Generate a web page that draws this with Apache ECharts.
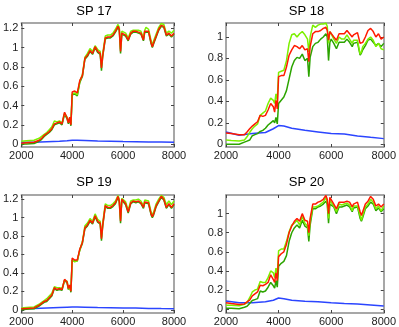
<!DOCTYPE html>
<html>
<head>
<meta charset="utf-8">
<script src="https://cdn.jsdelivr.net/npm/echarts@6/dist/echarts.min.js"></script>
<style>
  html, body { margin: 0; padding: 0; background: #fff; }
  #chart { width: 399px; height: 327px; }
</style>
</head>
<body>
<div id="chart"></div>
<script>
// sample positions along the x axis (shared by every panel)
const X = [2000, 2200, 2500, 2700, 2800, 2900, 3000, 3100, 3200, 3300, 3400, 3500, 3600, 3700, 3800, 3850,
  3900, 3950, 4000, 4100, 4200, 4300, 4400, 4500, 4600, 4700, 4800, 4900, 5000, 5100, 5150, 5200,
  5300, 5400, 5500, 5600, 5700, 5800, 5850, 5900, 5950, 6000, 6100, 6200, 6300, 6400, 6500, 6600,
  6700, 6800, 6850, 6900, 7000, 7100, 7150, 7200, 7300, 7400, 7500, 7600, 7700, 7800, 7900, 8000]
const blueX = [2000, 2500, 3000, 3500, 3800, 4000, 4200, 4500, 5000, 5500, 6000, 6500, 7000, 7500, 8000]

const titles = ['SP 17', 'SP 18', 'SP 19', 'SP 20']

// SP 17
const sp17Red = [0.01, 0.015, 0.02, 0.04, 0.06, 0.09, 0.11, 0.13, 0.16, 0.21, 0.22, 0.23, 0.21, 0.33, 0.27, 0.22,
  0.28, 0.20, 0.54, 0.55, 0.53, 0.66, 0.71, 0.89, 0.92, 0.97, 0.94, 1.01, 0.96, 0.94, 0.79, 0.92,
  1.10, 1.11, 1.11, 1.13, 1.17, 1.22, 1.19, 0.96, 1.15, 1.17, 1.13, 1.08, 1.15, 1.17, 1.17, 1.16,
  1.15, 1.08, 1.17, 1.19, 1.17, 1.05, 1.01, 1.05, 1.12, 1.19, 1.23, 1.22, 1.13, 1.15, 1.12, 1.15]
const sp17Light = [0.03, 0.035, 0.04, 0.06, 0.08, 0.10, 0.12, 0.15, 0.18, 0.24, 0.23, 0.24, 0.22, 0.32, 0.28, 0.23,
  0.27, 0.21, 0.52, 0.53, 0.51, 0.65, 0.72, 0.90, 0.94, 0.99, 0.96, 1.02, 0.98, 0.96, 0.81, 0.94,
  1.12, 1.13, 1.13, 1.15, 1.19, 1.24, 1.21, 0.98, 1.17, 1.19, 1.15, 1.10, 1.17, 1.18, 1.18, 1.18,
  1.17, 1.10, 1.18, 1.21, 1.19, 1.07, 1.03, 1.07, 1.14, 1.21, 1.25, 1.24, 1.15, 1.17, 1.15, 1.18]
const sp17Dark = [0.0, 0.0, 0.005, 0.03, 0.05, 0.08, 0.10, 0.12, 0.15, 0.20, 0.21, 0.22, 0.20, 0.31, 0.26, 0.21,
  0.26, 0.19, 0.51, 0.52, 0.50, 0.64, 0.70, 0.88, 0.91, 0.96, 0.93, 1.00, 0.95, 0.93, 0.76, 0.91,
  1.09, 1.10, 1.10, 1.12, 1.16, 1.21, 1.18, 0.94, 1.14, 1.16, 1.12, 1.07, 1.14, 1.16, 1.16, 1.15,
  1.14, 1.07, 1.16, 1.18, 1.16, 1.04, 1.00, 1.04, 1.11, 1.18, 1.22, 1.21, 1.12, 1.14, 1.11, 1.14]
const sp17Blue = [0.02, 0.02, 0.025, 0.03, 0.035, 0.04, 0.04, 0.037, 0.032, 0.03, 0.027, 0.025, 0.023, 0.021, 0.018]

// SP 18
const sp18Red = [0.105, 0.10, 0.09, 0.09, 0.115, 0.145, 0.17, 0.19, 0.21, 0.27, 0.26, 0.27, 0.32, 0.38, 0.35, 0.30,
  0.41, 0.33, 0.63, 0.64, 0.64, 0.72, 0.83, 0.88, 0.92, 0.91, 0.89, 0.92, 0.88, 0.89, 0.77, 0.91,
  1.03, 1.05, 1.05, 1.06, 1.08, 1.09, 1.06, 0.97, 1.05, 1.06, 1.00, 0.97, 1.03, 1.03, 1.03, 1.06,
  1.03, 1.00, 1.02, 1.03, 1.04, 0.94, 0.93, 0.95, 1.00, 1.06, 1.08, 1.05, 1.00, 1.03, 0.98, 1.00]
const sp18Light = [0.04, 0.035, 0.03, 0.04, 0.07, 0.11, 0.145, 0.17, 0.19, 0.27, 0.29, 0.31, 0.38, 0.43, 0.41, 0.38,
  0.47, 0.41, 0.67, 0.68, 0.69, 0.78, 0.94, 1.02, 1.03, 1.00, 1.03, 1.05, 1.02, 0.98, 0.86, 1.00,
  1.11, 1.09, 1.11, 1.12, 1.12, 1.13, 1.10, 0.94, 1.05, 1.03, 0.98, 0.94, 1.00, 0.98, 0.98, 1.02,
  0.98, 0.94, 0.97, 0.98, 0.97, 0.84, 0.86, 0.91, 0.94, 0.98, 1.00, 0.97, 0.91, 0.94, 0.89, 0.88]
const sp18Dark = [0.0, 0.0, 0.0, 0.02, 0.03, 0.04, 0.08, 0.09, 0.10, 0.12, 0.13, 0.15, 0.18, 0.20, 0.22, 0.20,
  0.25, 0.19, 0.38, 0.41, 0.44, 0.50, 0.61, 0.72, 0.78, 0.81, 0.80, 0.84, 0.78, 0.80, 0.63, 0.81,
  0.91, 0.94, 0.95, 0.98, 1.00, 1.03, 1.00, 0.78, 0.95, 0.98, 0.94, 0.89, 0.95, 0.95, 0.95, 0.98,
  0.95, 0.91, 0.94, 0.95, 0.95, 0.83, 0.85, 0.88, 0.92, 0.97, 0.98, 0.95, 0.92, 0.94, 0.91, 0.94]
const sp18Blue = [0.115, 0.085, 0.10, 0.11, 0.145, 0.175, 0.17, 0.15, 0.13, 0.115, 0.10, 0.095, 0.078, 0.065, 0.053]

// SP 19
const sp19Red = [0.01, 0.015, 0.02, 0.05, 0.07, 0.09, 0.10, 0.13, 0.16, 0.24, 0.22, 0.23, 0.22, 0.33, 0.30, 0.23,
  0.27, 0.20, 0.56, 0.54, 0.54, 0.66, 0.73, 0.89, 0.92, 0.97, 0.94, 1.02, 0.96, 0.94, 0.77, 0.92,
  1.13, 1.11, 1.11, 1.13, 1.16, 1.23, 1.18, 0.96, 1.20, 1.22, 1.15, 1.06, 1.16, 1.18, 1.17, 1.18,
  1.16, 1.11, 1.17, 1.18, 1.16, 1.04, 1.01, 1.04, 1.13, 1.18, 1.23, 1.20, 1.11, 1.15, 1.11, 1.15]
const sp19Light = [0.02, 0.025, 0.03, 0.06, 0.08, 0.10, 0.12, 0.15, 0.18, 0.25, 0.24, 0.24, 0.23, 0.32, 0.31, 0.24,
  0.26, 0.21, 0.54, 0.52, 0.53, 0.65, 0.74, 0.91, 0.94, 0.99, 0.96, 1.04, 0.98, 0.96, 0.79, 0.94,
  1.15, 1.13, 1.13, 1.15, 1.18, 1.24, 1.20, 0.98, 1.21, 1.23, 1.17, 1.08, 1.18, 1.19, 1.19, 1.20,
  1.18, 1.13, 1.19, 1.20, 1.18, 1.06, 1.03, 1.06, 1.15, 1.20, 1.24, 1.22, 1.14, 1.18, 1.14, 1.18]
const sp19Dark = [0.0, 0.005, 0.01, 0.04, 0.06, 0.08, 0.09, 0.12, 0.15, 0.23, 0.21, 0.22, 0.21, 0.32, 0.29, 0.22,
  0.26, 0.19, 0.54, 0.53, 0.53, 0.65, 0.72, 0.88, 0.91, 0.96, 0.93, 1.01, 0.95, 0.93, 0.75, 0.91,
  1.12, 1.10, 1.10, 1.12, 1.15, 1.22, 1.17, 0.94, 1.19, 1.21, 1.14, 1.05, 1.15, 1.17, 1.16, 1.17,
  1.15, 1.10, 1.16, 1.17, 1.15, 1.03, 1.00, 1.03, 1.12, 1.17, 1.22, 1.19, 1.10, 1.14, 1.10, 1.14]
const sp19Blue = [0.015, 0.015, 0.02, 0.025, 0.028, 0.03, 0.03, 0.028, 0.024, 0.022, 0.02, 0.018, 0.015, 0.013, 0.012]

// SP 20
const sp20Red = [0.067, 0.06, 0.05, 0.055, 0.077, 0.094, 0.14, 0.16, 0.18, 0.25, 0.245, 0.26, 0.28, 0.36, 0.31, 0.28,
  0.38, 0.30, 0.55, 0.58, 0.60, 0.68, 0.80, 0.87, 0.92, 0.95, 0.92, 1.00, 0.93, 0.92, 0.80, 0.95,
  1.10, 1.10, 1.12, 1.13, 1.15, 1.19, 1.15, 1.00, 1.17, 1.17, 1.10, 1.05, 1.12, 1.12, 1.12, 1.13,
  1.12, 1.07, 1.10, 1.12, 1.12, 1.02, 0.98, 1.02, 1.10, 1.13, 1.18, 1.15, 1.08, 1.10, 1.07, 1.10]
const sp20Light = [0.04, 0.04, 0.035, 0.05, 0.07, 0.12, 0.18, 0.20, 0.21, 0.29, 0.28, 0.28, 0.33, 0.40, 0.38, 0.33,
  0.43, 0.36, 0.61, 0.63, 0.63, 0.71, 0.81, 0.88, 0.90, 0.93, 0.88, 0.97, 0.90, 0.87, 0.77, 0.92,
  1.07, 1.07, 1.08, 1.10, 1.12, 1.17, 1.12, 0.95, 1.14, 1.15, 1.08, 1.02, 1.10, 1.09, 1.10, 1.11,
  1.09, 1.03, 1.08, 1.10, 1.08, 0.98, 0.93, 0.98, 1.07, 1.10, 1.15, 1.12, 1.05, 1.08, 1.03, 1.08]
const sp20Dark = [0.01, 0.01, 0.005, 0.02, 0.03, 0.06, 0.09, 0.10, 0.11, 0.19, 0.18, 0.19, 0.23, 0.28, 0.245, 0.22,
  0.30, 0.23, 0.45, 0.48, 0.50, 0.56, 0.71, 0.80, 0.85, 0.88, 0.85, 0.93, 0.87, 0.85, 0.71, 0.88,
  1.05, 1.05, 1.07, 1.08, 1.10, 1.13, 1.10, 0.90, 1.10, 1.12, 1.07, 1.00, 1.07, 1.07, 1.08, 1.09,
  1.07, 1.02, 1.06, 1.08, 1.07, 0.95, 0.92, 0.96, 1.05, 1.08, 1.12, 1.10, 1.03, 1.06, 1.02, 1.05]
const sp20Blue = [0.085, 0.067, 0.067, 0.077, 0.094, 0.117, 0.11, 0.094, 0.084, 0.077, 0.067, 0.06, 0.054, 0.044, 0.034]

const panels = [
  { red: sp17Red, light: sp17Light, dark: sp17Dark, blue: sp17Blue },
  { red: sp18Red, light: sp18Light, dark: sp18Dark, blue: sp18Blue },
  { red: sp19Red, light: sp19Light, dark: sp19Dark, blue: sp19Blue },
  { red: sp20Red, light: sp20Light, dark: sp20Dark, blue: sp20Blue },
]
const yTicks = [[0, 0.2, 0.4, 0.6, 0.8, 1, 1.2], [0, 0.2, 0.4, 0.6, 0.8, 1],
  [0, 0.2, 0.4, 0.6, 0.8, 1, 1.2], [0, 0.2, 0.4, 0.6, 0.8, 1]]

// layout (pixels) and y extents per panel
const boxes = [
  { left: 14, top: 23, width: 160, height: 124, ymin: -0.03, ymax: 1.255 },
  { left: 226, top: 23, width: 161, height: 124, ymin: -0.025, ymax: 1.13 },
  { left: 14, top: 195, width: 160, height: 123, ymin: -0.035, ymax: 1.245 },
  { left: 226, top: 195, width: 161, height: 123, ymin: -0.04, ymax: 1.195 },
]

const FONT = 'Liberation Sans, Arial, Helvetica, sans-serif'
const AXIS_GRAY = '#8a8a8a'
const colors = { blue: '#2b45ff', dark: '#2ca400', light: '#7cf000', red: '#ff1a00' }

const grid = [], xAxis = [], yAxis = [], series = [], title = []
boxes.forEach((b, i) => {
  grid.push({ left: b.left, top: b.top, width: b.width, height: b.height, containLabel: false })
  title.push({
    text: titles[i], left: b.left + b.width / 2, top: i < 2 ? 5 : 176, textAlign: 'center', padding: 0,
    textStyle: { fontFamily: FONT, fontSize: 13, fontWeight: 'normal', color: '#000' },
  })
  const lineStyle = { color: AXIS_GRAY, width: 1.5 }
  const tick = { show: true, inside: true, length: 3, lineStyle: { color: '#444', width: 1 } }
  // bottom x axis with labels
  xAxis.push({
    gridIndex: i, type: 'value', min: 2000, max: 8000, interval: 2000, position: 'bottom',
    axisLine: { show: true, onZero: false, lineStyle }, axisTick: tick, splitLine: { show: false },
    axisLabel: { fontFamily: FONT, fontSize: 11, color: '#222', margin: 3, formatter: v => String(v) },
  })
  // top x axis (box edge + ticks only)
  xAxis.push({
    gridIndex: i, type: 'value', min: 2000, max: 8000, interval: 2000, position: 'top',
    axisLine: { show: true, onZero: false, lineStyle }, axisTick: tick, splitLine: { show: false },
    axisLabel: { show: false },
  })
  yAxis.push({
    gridIndex: i, type: 'value', min: b.ymin, max: b.ymax, position: 'left',
    axisLine: { show: true, onZero: false, lineStyle },
    axisTick: { ...tick, customValues: yTicks[i] }, splitLine: { show: false },
    axisLabel: { fontFamily: FONT, fontSize: 11, color: '#222', margin: 3, customValues: yTicks[i], formatter: v => String(v) },
  })
  yAxis.push({
    gridIndex: i, type: 'value', min: b.ymin, max: b.ymax, position: 'right',
    axisLine: { show: true, onZero: false, lineStyle },
    axisTick: { ...tick, customValues: yTicks[i] }, splitLine: { show: false },
    axisLabel: { show: false },
  })

  const p = panels[i]
  const mk = (xs, ys, color) => ({
    type: 'line', xAxisIndex: i * 2, yAxisIndex: i * 2, data: xs.map((x, k) => [x, ys[k]]),
    showSymbol: false, symbol: 'none', clip: true, silent: true,
    lineStyle: { color, width: 1.5 },
  })
  series.push(mk(blueX, p.blue, colors.blue))
  series.push(mk(X, p.dark, colors.dark))
  series.push(mk(X, p.light, colors.light))
  series.push(mk(X, p.red, colors.red))
})

const chart = echarts.init(document.getElementById('chart'), null, { renderer: 'canvas' })
chart.setOption({
  animation: false,
  backgroundColor: '#fff',
  title, grid, xAxis, yAxis, series,
})
</script>
</body>
</html>
